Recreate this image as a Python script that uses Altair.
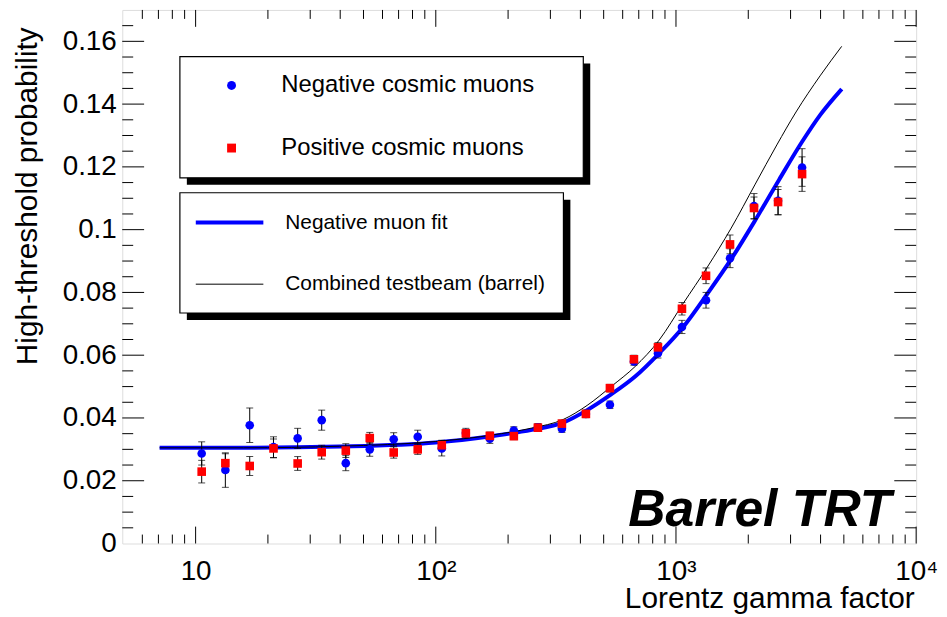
import altair as alt
import pandas as pd

FONT = "Liberation Sans"

# ---------------- data ----------------
x_bins = [10.6, 13.3, 16.8, 21.1, 26.6, 33.5, 42.2, 53.1, 66.8, 84.1, 105.9, 133.4, 167.9,
          211.3, 266.1, 335.0, 421.7, 530.9, 668.3, 841.4, 1059, 1334, 1679, 2113, 2661, 3350]

neg_y = [0.0287, 0.0234, 0.0377, 0.0307, 0.0335, 0.0393, 0.0256, 0.0300, 0.0332, 0.0340, 0.0303,
         0.0352, 0.0334, 0.0360, 0.0370, 0.0366, 0.0413, 0.0442, 0.0580, 0.0606, 0.0690, 0.0775,
         0.0909, 0.1075, 0.1092, 0.1198]
neg_err = [0.0037, 0.0055, 0.0055, 0.0033, 0.0032, 0.0032, 0.0024, 0.0022, 0.0021, 0.0021, 0.0024,
           0.0015, 0.0015, 0.0012, 0.0012, 0.0012, 0.0012, 0.0012, 0.0012, 0.0015, 0.0021, 0.0025,
           0.0030, 0.0040, 0.0045, 0.0060]
pos_y = [0.0229, 0.0256, 0.0247, 0.0303, 0.0255, 0.0291, 0.0296, 0.0336, 0.0290, 0.0300, 0.0313,
         0.0351, 0.0343, 0.0342, 0.0369, 0.0382, 0.0413, 0.0495, 0.0587, 0.0625, 0.0748, 0.0853,
         0.0953, 0.1069, 0.1088, 0.1177]
pos_err = [0.0036, 0.0030, 0.0030, 0.0030, 0.0022, 0.0022, 0.0022, 0.0018, 0.0018, 0.0016, 0.0016,
           0.0012, 0.0012, 0.0011, 0.0011, 0.0011, 0.0011, 0.0012, 0.0013, 0.0015, 0.0020, 0.0025,
           0.0030, 0.0035, 0.0040, 0.0055]

fit_x = [7.08, 15.85, 39.8, 100, 169.8, 251.2, 338.8, 426.6, 537, 676, 851, 1072, 1349, 1698,
         2138, 2692, 3350, 3981, 4898]
fit_y = [0.0305, 0.0305, 0.0309, 0.0322, 0.0342, 0.0362, 0.0385, 0.0425, 0.0475, 0.0532, 0.0606,
         0.0690, 0.0795, 0.0906, 0.1030, 0.1160, 0.1280, 0.1365, 0.1448]
tb_x = [7.08, 15.85, 39.8, 100, 169.8, 251.2, 338.8, 426.6, 537, 676, 851, 1072, 1349, 1698,
        2138, 2630, 3162, 3981, 4898]
tb_y = [0.0305, 0.0305, 0.0310, 0.0325, 0.0345, 0.0368, 0.0395, 0.0440, 0.0500, 0.0564, 0.0648,
        0.0765, 0.0880, 0.1005, 0.1145, 0.1270, 0.1375, 0.1490, 0.1584]

series_pts = ["Negative cosmic muons", "Positive cosmic muons"]
series_lines = ["Negative muon fit", "Combined testbeam (barrel)"]

x_major = [10, 100, 1000, 10000]
x_minor = [6, 7, 8, 9, 20, 30, 40, 50, 60, 70, 80, 90, 200, 300, 400, 500, 600, 700, 800, 900,
           2000, 3000, 4000, 5000, 6000, 7000, 8000, 9000]
y_labels = [0, 0.02, 0.04, 0.06, 0.08, 0.1, 0.12, 0.14, 0.16]
y_major = [0.02, 0.04, 0.06, 0.08, 0.1, 0.12, 0.14, 0.16]
y_minor = [0.005, 0.01, 0.015, 0.025, 0.03, 0.035, 0.045, 0.05, 0.055, 0.065, 0.07, 0.075,
           0.085, 0.09, 0.095, 0.105, 0.11, 0.115, 0.125, 0.13, 0.135, 0.145, 0.15, 0.155, 0.165]

# ---------------- tables ----------------
pts = pd.DataFrame({
    "x": x_bins + x_bins,
    "y": neg_y + pos_y,
    "err": neg_err + pos_err,
    "series": [series_pts[0]] * len(x_bins) + [series_pts[1]] * len(x_bins),
})
pts["lo"] = pts["y"] - pts["err"]
pts["hi"] = pts["y"] + pts["err"]

lines = pd.DataFrame({
    "x": fit_x + tb_x,
    "y": fit_y + tb_y,
    "series": [series_lines[0]] * len(fit_x) + [series_lines[1]] * len(tb_x),
    "ord": list(range(len(fit_x))) + list(range(len(tb_x))),
})

W, H = 799, 537
xscale = alt.Scale(type="log", domain=[4.95, 10000], nice=False)
yscale = alt.Scale(domain=[0, 0.17], nice=False, zero=False)

xaxis = alt.Axis(
    values=x_major,
    labelExpr="datum.value == 10 ? '10' : datum.value == 100 ? '10²' : datum.value == 1000 ? '10³' : '10⁴'",
    ticks=False, tickSize=0, domain=False, grid=False,
    labelFont=FONT, labelFontSize=28, labelColor="black", labelPadding=14,
    labelFlush=False, labelOverlap=False,
    title="Lorentz gamma factor", titleFont=FONT, titleFontSize=30, titleFontWeight="normal",
    titleColor="black", titleX=797, titleY=64, titleAlign="right", titleBaseline="alphabetic",
)
yaxis = alt.Axis(
    values=y_labels, format="~g",
    ticks=False, tickSize=0, domain=False, grid=False,
    labelFont=FONT, labelFontSize=28, labelColor="black", labelPadding=6,
    title="High-threshold probability", titleFont=FONT, titleFontSize=30, titleFontWeight="normal",
    titleColor="black", titleX=-95, titleY=187, titleAngle=270, titleAlign="center",
    titleBaseline="middle",
)

def X(field):
    return alt.X(field, scale=xscale, axis=xaxis)

def Y(field):
    return alt.Y(field, scale=yscale, axis=yaxis)

one = pd.DataFrame({"a": [0]})

def box(x1, x2, y1, y2, fill, stroke=None):
    kw = dict(fill=fill)
    if stroke:
        kw.update(stroke=stroke, strokeWidth=1.2)
    return alt.Chart(one).mark_rect(**kw).encode(
        x=alt.value(x1), x2=alt.value(x2), y=alt.value(y1), y2=alt.value(y2))

shadow1 = box(65, 471, 54, 176, "black")
frame1 = box(58, 464, 47, 169, "white", "black")
shadow2 = box(65, 451, 191, 312, "black")
frame2 = box(58, 444, 184, 305, "white", "black")

line_legend = alt.Legend(
    orient="none", legendX=72, legendY=204, title=None, symbolType="stroke", symbolSize=4624,
    clipHeight=20,
    labelFont=FONT, labelFontSize=21, labelColor="black", labelOffset=20, rowPadding=41,
    padding=0, labelLimit=400)

line_layer = alt.Chart(lines).mark_line(interpolate="monotone").encode(
    x=X("x:Q"),
    y=Y("y:Q"),
    color=alt.Color("series:N", scale=alt.Scale(domain=series_lines, range=["#0000ff", "#000000"]),
                    legend=line_legend),
    strokeWidth=alt.StrokeWidth("series:N", scale=alt.Scale(domain=series_lines, range=[4, 1]),
                                legend=line_legend),
    order="ord:Q",
)

err_rule = alt.Chart(pts).mark_rule(color="black", strokeWidth=1).encode(
    x=X("x:Q"),
    y=Y("lo:Q"),
    y2="hi:Q",
)
err_caps = alt.Chart(pts).transform_fold(["lo", "hi"], as_=["k", "cap"]).mark_tick(
    orient="horizontal", color="black", size=7, thickness=1).encode(
    x=X("x:Q"),
    y=Y("cap:Q"),
)

pt_legend = alt.Legend(
    orient="none", legendX=98, legendY=64, title=None, symbolSize=80, symbolStrokeWidth=0,
    labelFont=FONT, labelFontSize=24, labelColor="black", labelOffset=38, rowPadding=39,
    padding=0, labelLimit=400)

pt_layer = alt.Chart(pts).mark_point(filled=True, opacity=1, size=75).encode(
    x=X("x:Q"),
    y=Y("y:Q"),
    color=alt.Color("series:N", scale=alt.Scale(domain=series_pts, range=["#0000ff", "#ff0000"]),
                    legend=pt_legend),
    shape=alt.Shape("series:N", scale=alt.Scale(domain=series_pts, range=["circle", "square"]),
                    legend=pt_legend),
)

def xticks(vals, y1, y2):
    return alt.Chart(pd.DataFrame({"v": vals})).mark_rule(color="black", strokeWidth=1).encode(
        x=X("v:Q"), y=alt.value(y1), y2=alt.value(y2))

def yticks(vals, x1, x2):
    return alt.Chart(pd.DataFrame({"v": vals})).mark_rule(color="black", strokeWidth=1).encode(
        y=Y("v:Q"), x=alt.value(x1), x2=alt.value(x2))

ticks = [
    xticks(x_major, H, H - 17), xticks(x_minor, H, H - 9),
    xticks(x_major, 0, 17), xticks(x_minor, 0, 9),
    yticks(y_major, 0, 22), yticks(y_minor, 0, 11),
    yticks(y_major, W, W - 22), yticks(y_minor, W, W - 11),
]

label = alt.Chart(one).mark_text(
    text="Barrel TRT", font=FONT, fontSize=52, fontWeight="bold", fontStyle="italic",
    align="right", baseline="alphabetic", color="black").encode(
    x=alt.value(774), y=alt.value(519))

chart = alt.layer(
    shadow1, frame1, shadow2, frame2, line_layer, err_rule, err_caps, pt_layer, *ticks, label
).resolve_scale(
    color="independent", shape="independent", strokeWidth="independent"
).properties(
    width=W, height=H,
    autosize=alt.AutoSizeParams(type="none"),
    padding={"left": 115, "top": 0, "right": 23, "bottom": 72},
).configure_view(stroke="black", strokeWidth=1.5).configure(background="white")

chart.save("out.html", embed_options={"renderer": "svg", "actions": False})
